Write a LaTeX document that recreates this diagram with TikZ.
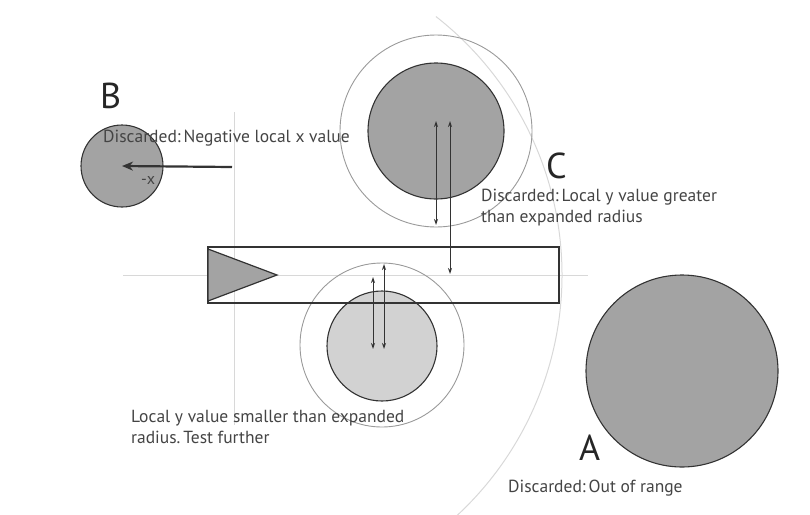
\documentclass[tikz,border=0pt]{standalone}
\usepackage{fontspec}
\setmainfont{PT Sans}
\usetikzlibrary{arrows.meta}
\definecolor{guide}{HTML}{D8D8D8}
\definecolor{ring}{HTML}{9A9A9A}
\definecolor{darkfill}{HTML}{A3A3A3}
\definecolor{lightfill}{HTML}{D2D2D2}
\definecolor{edge}{HTML}{333333}
\definecolor{txt}{HTML}{444444}
\tikzset{
  guideline/.style={draw=guide, line width=1pt},
  ringline/.style={draw=ring, line width=0.9pt},
  obj/.style={circle, draw=edge, line width=1.1pt, fill=darkfill, inner sep=0pt},
  lobj/.style={circle, draw=edge, line width=1.1pt, fill=lightfill, inner sep=0pt},
  meas/.style={draw=edge, line width=1pt, {Stealth[length=6pt,width=4pt]}-{Stealth[length=6pt,width=4pt]}},
  lbl/.style={font=\fontsize{17.5}{21}\selectfont, text=txt, anchor=base west, inner sep=0pt, align=left},
  big/.style={font=\fontsize{36}{36}\selectfont, text=black!85, anchor=base west, inner sep=0pt},
}
\begin{document}
\begin{tikzpicture}[x=1pt,y=-1pt]
\useasboundingbox (0,0) rectangle (810,514);
\begin{scope}
\clip (0,0) rectangle (810,514);
% origin and guide lines
\coordinate (O) at (234,275);
\draw[guideline] (123,275) -- (588,275);
\draw[guideline] (234,112) -- (234,425);
\draw[guideline] (O) ++(53:328) arc[start angle=53, end angle=-52, radius=328];
\end{scope}
% outer expanded-radius rings
\draw[ringline] (436,131) circle[radius=96];
\draw[ringline] (382,345) circle[radius=82];
% object circles
\node[obj, minimum size=136pt] (C) at (436,131) {};
\node[lobj, minimum size=110pt] (L) at (382,346) {};
\node[obj, minimum size=82pt] (B) at (122,166) {};
\node[obj, minimum size=192pt] (A) at (682,371) {};
% the ray box and triangle
\draw[edge, line width=1.3pt] (208,247) rectangle (559,303);
\draw[edge, line width=1.2pt, fill=darkfill] (208,249) -- (277,275) -- (208,301) -- cycle;
% measurement arrows
\coordinate (c1t) at (436,121); \coordinate (c1b) at (436,225);
\coordinate (c2t) at (450,121); \coordinate (c2b) at (450,274);
\draw[meas] (c1t) -- (c1b);
\draw[meas] (c2t) -- (c2b);
\coordinate (l1t) at (373,277); \coordinate (l1b) at (373,349);
\coordinate (l2t) at (384,264); \coordinate (l2b) at (384,349);
\draw[meas] (l1t) -- (l1b);
\draw[meas] (l2t) -- (l2b);
% negative x arrow
\coordinate (bx) at (232,167);
\draw[edge, line width=2.2pt, -{Stealth[length=11pt,width=9pt]}] (bx) -- (B.center);
\node[font=\fontsize{16}{16}\selectfont, text=txt, inner sep=0pt] (mx) at (148,180) {-x};
% labels
\node[big] (labB) at (100,108) {B};
\node[big] (labC) at (546,178) {C};
\node[big] (labA) at (579,460) {A};
\node[lbl] (tB) at (103,142) {Discarded:\,Negative local x value};
\node[lbl] (tC) at (481,222) {Discarded:\,Local y value greater\\than expanded radius};
\node[lbl] (tL) at (131,443) {Local y value smaller than expanded\\radius.\,Test further};
\node[lbl] (tA) at (508,492) {Discarded:\,Out of range};
\end{tikzpicture}
\end{document}
